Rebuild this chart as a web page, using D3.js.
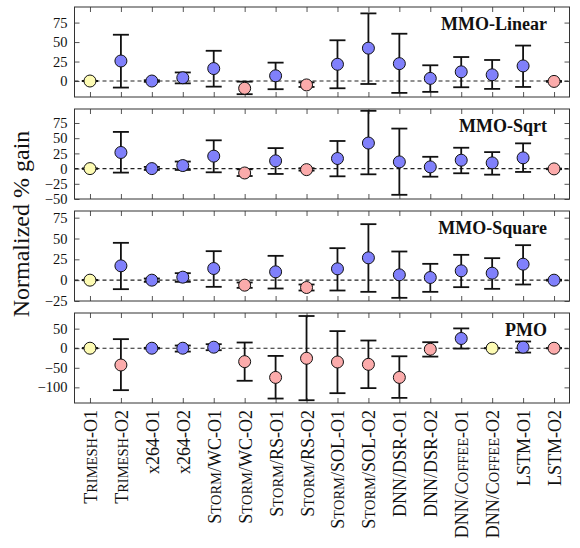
<!DOCTYPE html>
<html><head><meta charset="utf-8">
<script src="https://cdn.jsdelivr.net/npm/d3@7/dist/d3.min.js"></script>
<style>
body{margin:0;background:#fff;}
svg text{font-family:"Liberation Serif","DejaVu Serif",serif;}
</style></head>
<body><svg id="c" width="580" height="548"></svg>
<script>
const categories = ["Trimesh-O1","Trimesh-O2","x264-O1","x264-O2","Storm/WC-O1","Storm/WC-O2","Storm/RS-O1","Storm/RS-O2","Storm/SOL-O1","Storm/SOL-O2","DNN/DSR-O1","DNN/DSR-O2","DNN/Coffee-O1","DNN/Coffee-O2","LSTM-O1","LSTM-O2"];
const panelTitles = ["MMO-Linear","MMO-Sqrt","MMO-Square","PMO"];

const linearMean = [0, 25.7, 0, 4.2, 16, -9.3, 6.7, -5, 21.5, 42.2, 22.3, 3.4, 11.8, 8, 19.4, -0.5];
const linearLow  = [0, -8.4, -1, -3, -7.2, -16.9, -10.5, -7.6, -9.3, -3.8, -15.2, -13.9, -8, -10.1, -7.6, -1];
const linearHigh = [0, 59.4, 1, 11, 38.8, -0.8, 23.6, -1.7, 52.3, 86.8, 60.7, 20.2, 30.8, 27, 45.5, 0];
const linearColor = ["y","b","b","b","b","p","b","p","b","b","b","b","b","b","b","p"];

const sqrtMean = [0, 26.5, 0, 5, 20.5, -7.2, 12.7, -1.7, 16.6, 42, 11, 2.8, 13.8, 9.4, 17.7, -0.5];
const sqrtLow  = [0, -6.6, -2.2, -2.2, -6.1, -12.2, -8.8, -3.3, -12.7, -9.4, -43.1, -13.3, -7.7, -10, -5.5, -1];
const sqrtHigh = [0, 60.3, 2.8, 11.6, 46.5, -1.1, 33.7, 0.6, 45.4, 95, 65.8, 19.4, 34.3, 27.1, 41.5, 0];
const sqrtColor = ["y","b","b","b","b","p","b","p","b","b","b","b","b","b","b","p"];

const squareMean = [0, 17.2, 0, 3.6, 14, -6, 10, -8.8, 13.6, 26.8, 6.4, 3.2, 11.2, 8.4, 19.2, 0];
const squareLow  = [0, -10.8, -2, -2, -8, -9.2, -10, -12.4, -12.4, -14, -21.2, -14, -8.4, -10.4, -5.2, -0.5];
const squareHigh = [0, 44.8, 2, 8.4, 34.8, -2.8, 29.2, -5.2, 38.4, 67.2, 34.4, 19.6, 30.4, 26.4, 42, 0.5];
const squareColor = ["y","b","b","b","b","p","b","p","b","b","b","b","b","b","b","b"];

const pmoMean = [0, -42.9, 0, 0, 2.6, -34.3, -74.6, -25.7, -35.2, -41.2, -74.6, -2.6, 24.9, 0, 2.6, 0];
const pmoLow  = [0, -107.2, -1, -8.6, -5.1, -83.2, -128.6, -132.9, -114.9, -102, -126.9, -21.4, -0.9, 0, -11.1, 0];
const pmoHigh = [0, 23.2, 1, 6.9, 10.3, 14.6, -19.7, 82.3, 43.7, 19.7, -20.6, 15.4, 50.6, 0, 17.2, 0];
const pmoColor = ["y","p","b","b","b","p","p","p","p","p","p","p","b","y","b","p"];

const linearTicks = [0,25,50,75];
const sqrtTicks = [-50,-25,0,25,50,75];
const squareTicks = [-25,0,25,50,75];
const pmoTicks = [-100,-50,0,50];

const linearDomain = [-20.5, 95];
const sqrtDomain = [-50, 98];
const squareDomain = [-25, 83];
const pmoDomain = [-140, 90];

const yLabel = "Normalized % gain";

const panels = [
  {title: panelTitles[0], mean: linearMean, lo: linearLow, hi: linearHigh, col: linearColor, ticks: linearTicks, dom: linearDomain},
  {title: panelTitles[1], mean: sqrtMean, lo: sqrtLow, hi: sqrtHigh, col: sqrtColor, ticks: sqrtTicks, dom: sqrtDomain},
  {title: panelTitles[2], mean: squareMean, lo: squareLow, hi: squareHigh, col: squareColor, ticks: squareTicks, dom: squareDomain},
  {title: panelTitles[3], mean: pmoMean, lo: pmoLow, hi: pmoHigh, col: pmoColor, ticks: pmoTicks, dom: pmoDomain}
];
const fills = {b: "#8080fb", p: "#fbabab", y: "#fdfbb3"};

const svg = d3.select("#c");
const left = 74.5, right = 569.5, ph = 90;
const tops = [7, 109, 211, 313];
const x = d3.scalePoint().domain(categories).range([left, right]).padding(0.5);
const fmt = v => (v < 0 ? "\u2212" + Math.abs(v) : String(v));

panels.forEach((p, pi) => {
  const top = tops[pi];
  const y = d3.scaleLinear().domain(p.dom).range([top + ph, top]);
  const g = svg.append("g");
  const ya = g.append("g").attr("transform", `translate(${left},0)`)
    .call(d3.axisLeft(y).tickValues(p.ticks).tickSize(-5).tickPadding(7).tickFormat(fmt));
  ya.select(".domain").remove();
  ya.selectAll("line").attr("stroke", "#555");
  ya.selectAll("text").attr("font-size", 14.5).attr("fill", "#111").attr("font-family", "Liberation Serif");
  const yr = g.append("g").attr("transform", `translate(${right},0)`)
    .call(d3.axisRight(y).tickValues(p.ticks).tickSize(-5).tickFormat(""));
  yr.select(".domain").remove();
  yr.selectAll("line").attr("stroke", "#555");
  const xb = g.append("g").attr("transform", `translate(0,${top + ph})`)
    .call(d3.axisBottom(x).tickSize(-5).tickFormat(""));
  xb.select(".domain").remove();
  xb.selectAll("line").attr("stroke", "#555");
  const xt = g.append("g").attr("transform", `translate(0,${top})`)
    .call(d3.axisTop(x).tickSize(-5).tickFormat(""));
  xt.select(".domain").remove();
  xt.selectAll("line").attr("stroke", "#555");
  g.append("line").attr("x1", left).attr("x2", right).attr("y1", y(0)).attr("y2", y(0))
    .attr("stroke", "#222").attr("stroke-width", 1.1).attr("stroke-dasharray", "4,3");
  const eb = g.append("g").selectAll("g").data(categories).join("g");
  eb.append("line").attr("x1", d => x(d)).attr("x2", d => x(d))
    .attr("y1", (d, i) => y(p.lo[i])).attr("y2", (d, i) => y(p.hi[i]))
    .attr("stroke", "#111").attr("stroke-width", 1.8);
  eb.append("line").attr("x1", d => x(d) - 8).attr("x2", d => x(d) + 8)
    .attr("y1", (d, i) => y(p.lo[i])).attr("y2", (d, i) => y(p.lo[i]))
    .attr("stroke", "#111").attr("stroke-width", 1.8);
  eb.append("line").attr("x1", d => x(d) - 8).attr("x2", d => x(d) + 8)
    .attr("y1", (d, i) => y(p.hi[i])).attr("y2", (d, i) => y(p.hi[i]))
    .attr("stroke", "#111").attr("stroke-width", 1.8);
  eb.append("circle").attr("cx", d => x(d)).attr("cy", (d, i) => y(p.mean[i])).attr("r", 6)
    .attr("fill", (d, i) => fills[p.col[i]]).attr("stroke", "#111").attr("stroke-width", 1);
  g.append("rect").attr("x", left).attr("y", top).attr("width", right - left).attr("height", ph)
    .attr("fill", "none").attr("stroke", "#333").attr("stroke-width", 1);
  g.append("text").attr("x", 547).attr("y", top + 23).attr("text-anchor", "end")
    .attr("font-weight", "bold").attr("font-size", 18).attr("fill", "#111").text(p.title);
});

// x labels with manual small caps
const scWords = ["Trimesh", "Storm", "Coffee"];
categories.forEach(c => {
  const t = svg.append("text")
    .attr("transform", `translate(${x(c) + 7},410) rotate(-90)`)
    .attr("text-anchor", "end").attr("font-size", 18).attr("fill", "#111");
  const parts = c.split(/(Trimesh|Storm|Coffee)/).filter(s => s.length);
  parts.forEach(s => {
    if (scWords.includes(s)) {
      t.append("tspan").text(s[0]);
      t.append("tspan").attr("font-size", 14.5).text(s.slice(1).toUpperCase());
    } else {
      t.append("tspan").text(s);
    }
  });
});

svg.append("text").attr("transform", "translate(29,224) rotate(-90)")
  .attr("text-anchor", "middle").attr("font-size", 24).attr("fill", "#111").text(yLabel);
</script></body></html>
